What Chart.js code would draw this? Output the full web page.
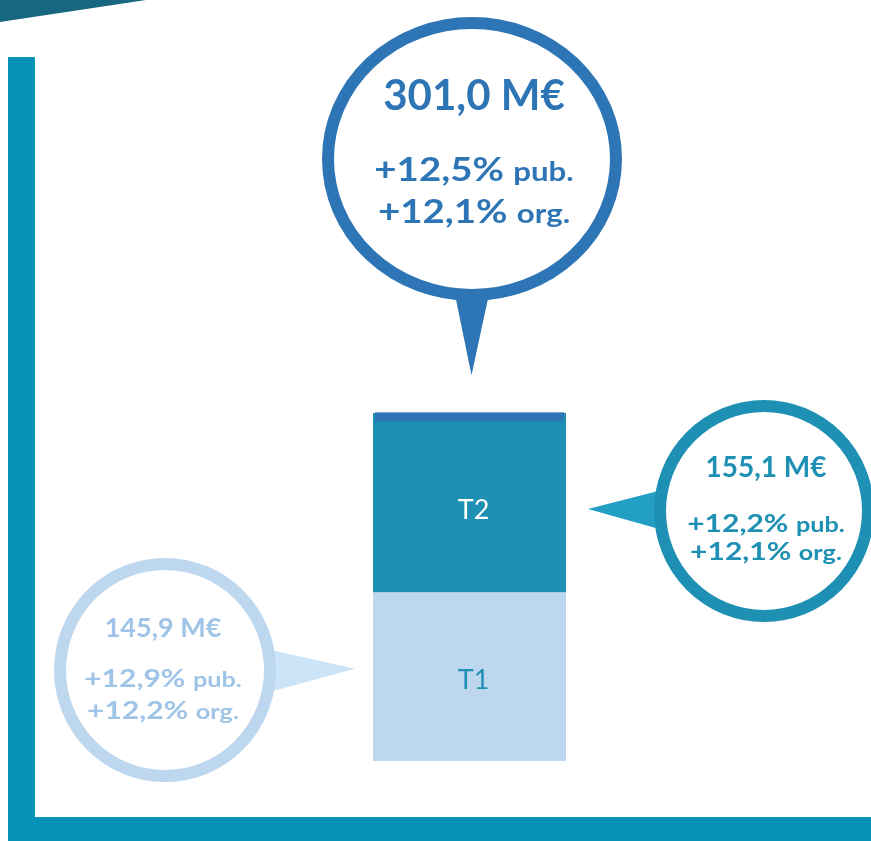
<!DOCTYPE html>
<html>
<head>
<meta charset="utf-8">
<script src="https://cdn.jsdelivr.net/npm/chart.js@4.4.1/dist/chart.umd.min.js"></script>
<style>
html,body{margin:0;padding:0;background:#fff;}
#wrap{width:871px;height:841px;position:relative;}
</style>
</head>
<body>
<div id="wrap"><canvas id="c" width="871" height="841"></canvas></div>
<script>
// ---- data ----
const categories = [''];
const seriesNames = ['T1', 'T2'];
const t1Values = [145.9];
const t2Values = [155.1];
const totalValues = [301.0];
const totalLabel = '301,0 M€';
const totalGrowth = ['+12,5%', '+12,1%'];
const t2Label = '155,1 M€';
const t2Growth = ['+12,2%', '+12,1%'];
const t1Label = '145,9 M€';
const t1Growth = ['+12,9%', '+12,2%'];
const growthSuffix = ['pub.', 'org.'];

const FONT = 'Lato, "Noto Sans", sans-serif';

function mixedLine(ctx, big, small, bigSize, smallSize, cx, y, color, sx) {
  ctx.save();
  ctx.fillStyle = color;
  ctx.textBaseline = 'alphabetic';
  ctx.textAlign = 'left';
  ctx.font = 'bold ' + bigSize + 'px ' + FONT;
  const w1 = ctx.measureText(big).width;
  ctx.font = 'bold ' + smallSize + 'px ' + FONT;
  const sp = smallSize * 0.3;
  const w2 = ctx.measureText(small).width;
  const x0 = -(w1 + sp + w2) / 2;
  ctx.translate(cx, y);
  ctx.scale(sx, 1);
  ctx.font = 'bold ' + bigSize + 'px ' + FONT;
  ctx.fillText(big, x0, 0);
  ctx.font = 'bold ' + smallSize + 'px ' + FONT;
  ctx.fillText(small, x0 + w1 + sp, 0);
  ctx.restore();
}

function bubble(ctx, o) {
  // pointer
  ctx.fillStyle = o.pointerColor;
  ctx.beginPath();
  ctx.moveTo(o.p1[0], o.p1[1]);
  ctx.lineTo(o.p2[0], o.p2[1]);
  ctx.lineTo(o.tip[0], o.tip[1]);
  ctx.closePath();
  ctx.fill();
  // circle
  ctx.fillStyle = '#fff';
  ctx.strokeStyle = o.color;
  ctx.lineWidth = 12;
  ctx.beginPath();
  ctx.ellipse(o.cx, o.cy, o.rx, o.ry, 0, 0, Math.PI * 2);
  ctx.fill();
  ctx.stroke();
  // texts
  ctx.fillStyle = o.textColor;
  ctx.textAlign = 'center';
  ctx.textBaseline = 'alphabetic';
  ctx.font = 'bold ' + o.vSize + 'px ' + FONT;
  ctx.fillText(o.value, o.tx, o.vy);
  mixedLine(ctx, o.growth[0], growthSuffix[0], o.gSize, o.sSize, o.tx, o.l1y, o.textColor, 1.2);
  mixedLine(ctx, o.growth[1], growthSuffix[1], o.gSize, o.sSize, o.tx, o.l2y, o.textColor, 1.2);
}

const decor = {
  id: 'decor',
  beforeDraw(chart) {
    const ctx = chart.ctx;
    ctx.save();
    ctx.fillStyle = '#fff';
    ctx.fillRect(0, 0, chart.width, chart.height);
    // top banner corner
    ctx.fillStyle = '#176780';
    ctx.beginPath();
    ctx.moveTo(0, 0); ctx.lineTo(146, 0); ctx.lineTo(0, 22); ctx.closePath();
    ctx.fill();
    // L frame
    ctx.fillStyle = '#0592b7';
    ctx.fillRect(8, 57, 27, 784);
    ctx.fillRect(8, 817, 863, 24);
    ctx.restore();
  },
  afterDatasetsDraw(chart) {
    const ctx = chart.ctx;
    const y = chart.scales.y;
    const m1 = chart.getDatasetMeta(0).data[0];
    const m2 = chart.getDatasetMeta(1).data[0];
    const bx = m2.x, bw = m2.width;
    const topY = y.getPixelForValue(totalValues[0]);
    ctx.save();
    // total cap
    ctx.fillStyle = '#2e75b6';
    ctx.fillRect(bx - bw / 2 + 2, topY - 1, bw - 4, 9);
    // segment labels
    ctx.textAlign = 'center';
    ctx.textBaseline = 'middle';
    ctx.font = '27px ' + FONT;
    ctx.fillStyle = '#ffffff';
    ctx.fillText(seriesNames[1], bx + 4, (m2.y + m2.base) / 2 + 7);
    ctx.fillStyle = '#1e90b4';
    ctx.fillText(seriesNames[0], bx + 4, (m1.y + m1.base) / 2 + 4);

    const t2Mid = (m2.y + m2.base) / 2;
    const t1Mid = (m1.y + m1.base) / 2;
    // top bubble
    bubble(ctx, {
      cx: 472, cy: 159, rx: 144, ry: 136, color: '#2e75b6', pointerColor: '#2e75b6', textColor: '#2e75b6',
      p1: [452, 280], p2: [492, 280], tip: [bx + 2, topY - 38],
      value: totalLabel, growth: totalGrowth, tx: 474, vy: 110, vSize: 42, l1y: 181, l2y: 223, gSize: 32, sSize: 26
    });
    // right bubble
    bubble(ctx, {
      cx: 764, cy: 511, rx: 104, ry: 105, color: '#1e90b4', pointerColor: '#239fc4', textColor: '#1e90b4',
      p1: [670, 488], p2: [670, 532], tip: [bx + bw / 2 + 22, t2Mid + 6],
      value: t2Label, growth: t2Growth, tx: 766, vy: 477, vSize: 28, l1y: 532, l2y: 560, gSize: 25, sSize: 21
    });
    // left bubble
    bubble(ctx, {
      cx: 165, cy: 670, rx: 105, ry: 106, color: '#bdd7ee', pointerColor: '#cce4f8', textColor: '#9fc4e7',
      p1: [262, 648], p2: [262, 694], tip: [bx - bw / 2 - 18, t1Mid - 8],
      value: t1Label, growth: t1Growth, tx: 163, vy: 637, vSize: 27, l1y: 687, l2y: 719, gSize: 25, sSize: 21
    });
    ctx.restore();
  }
};

new Chart(document.getElementById('c'), {
  type: 'bar',
  data: {
    labels: categories,
    datasets: [
      { label: seriesNames[0], data: t1Values, backgroundColor: '#bdd7ee', borderWidth: 0 },
      { label: seriesNames[1], data: t2Values, backgroundColor: '#1e90b4', borderWidth: 0 }
    ]
  },
  options: {
    responsive: false,
    animation: false,
    devicePixelRatio: 1,
    layout: { padding: { left: 373, right: 305, top: 68, bottom: 80 } },
    datasets: { bar: { barPercentage: 1, categoryPercentage: 1 } },
    plugins: { legend: { display: false }, tooltip: { enabled: false } },
    scales: {
      x: { stacked: true, display: false },
      y: { stacked: true, display: false, min: 0, max: 600 }
    }
  },
  plugins: [decor]
});
</script>
</body>
</html>
